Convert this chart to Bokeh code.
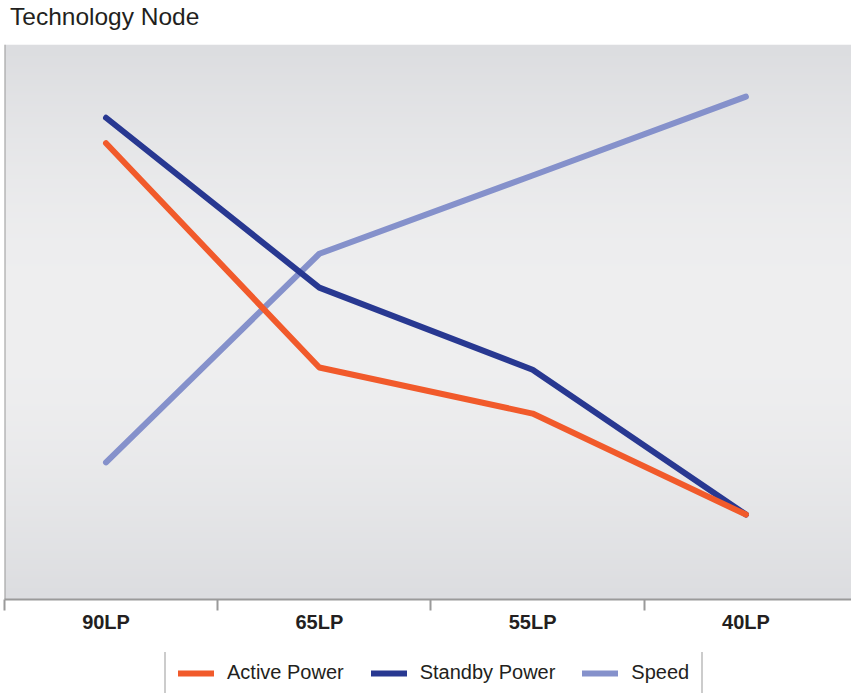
import numpy as np
from bokeh.plotting import figure
from bokeh.layouts import column
from bokeh.models import Range1d, FixedTicker, Legend, LegendItem, Span, Div
from bokeh.embed import file_html
from bokeh.resources import INLINE

# ---- data ----
title_text = "Technology Node"
categories = ["90LP", "65LP", "55LP", "40LP"]
positions = [0, 1, 2, 3]
active_power = [82.2, 41.8, 33.5, 15.3]
standby_power = [86.8, 56.2, 41.4, 15.3]
speed = [24.7, 62.3, 76.4, 90.6]
series_names = ["Active Power", "Standby Power", "Speed"]
series_colors = ["#f15a2b", "#283891", "#8591cb"]

FONT = "Liberation Sans"
TXT = "#231f20"

title_div = Div(text=title_text, width=851, height=44, margin=0,
                styles={"font-family": "'Liberation Sans', Arial, sans-serif",
                        "font-size": "24.5px", "color": TXT,
                        "padding-left": "10px", "padding-top": "2px",
                        "line-height": "1.2", "white-space": "nowrap"})

p = figure(frame_width=847, frame_height=555,
           x_range=Range1d(-0.476, 3.495), y_range=Range1d(0, 100),
           output_backend="svg", toolbar_location=None)
p.margin = 0
p.min_border_left = 4
p.min_border_right = 0
p.min_border_bottom = 53
p.min_border_top = 0
p.outline_line_color = None
p.background_fill_color = None
p.border_fill_color = "white"
p.xgrid.visible = False
p.ygrid.visible = False
p.yaxis.visible = False

# background gradient (style only)
rows = 256
t = np.linspace(0.0, 1.0, rows)
f = 1.0 - np.abs(2.0 * t - 1.0)
f = np.sin(f * np.pi / 2)
edge = np.array([220, 221, 224], dtype=float)
mid = np.array([239, 239, 240], dtype=float)
img = np.empty((rows, 1), dtype=np.uint32)
view = img.view(dtype=np.uint8).reshape((rows, 1, 4))
for k in range(3):
    view[:, 0, k] = (edge[k] + (mid[k] - edge[k]) * f).astype(np.uint8)
view[:, 0, 3] = 255
xr, yr = p.x_range, p.y_range
p.image_rgba(image=[img], x=xr.start, y=yr.start,
             dw=xr.end - xr.start, dh=yr.end - yr.start)

p.add_layout(Span(location=xr.start, dimension="height",
                  line_color="#9a9a9a", line_width=2))

line_kw = dict(line_width=6, line_cap="round", line_join="round")
p.line(positions, speed, line_color=series_colors[2], **line_kw)
p.line(positions, standby_power, line_color=series_colors[1], **line_kw)
p.line(positions, active_power, line_color=series_colors[0], **line_kw)

ax = p.xaxis[0]
ax.ticker = FixedTicker(ticks=positions, minor_ticks=[xr.start] + [i + 0.523 for i in positions[:3]])
ax.major_label_overrides = {i: c for i, c in zip(positions, categories)}
ax.major_tick_line_color = None
ax.minor_tick_line_color = "#9a9a9a"
ax.minor_tick_line_width = 2
ax.minor_tick_in = 0
ax.minor_tick_out = 11
ax.axis_line_color = "#9a9a9a"
ax.axis_line_width = 2
ax.major_label_text_font = FONT
ax.major_label_text_font_size = "20px"
ax.major_label_text_font_style = "bold"
ax.major_label_text_color = TXT
ax.major_label_standoff = 0

# legend strip below the chart (its series lie outside its ranges, only the key shows)
lg = figure(width=851, height=41, x_range=Range1d(10, 11), y_range=Range1d(200, 300),
            output_backend="svg", toolbar_location=None)
lg.margin = 0
lg.min_border = 0
lg.axis.visible = False
lg.grid.visible = False
lg.outline_line_color = None
lg.background_fill_color = "white"
lg.border_fill_color = "white"
l_active = lg.line(positions, active_power, line_color=series_colors[0], **line_kw)
l_standby = lg.line(positions, standby_power, line_color=series_colors[1], **line_kw)
l_speed = lg.line(positions, speed, line_color=series_colors[2], **line_kw)

legend = Legend(items=[
    LegendItem(label=series_names[0], renderers=[l_active]),
    LegendItem(label=series_names[1], renderers=[l_standby]),
    LegendItem(label=series_names[2], renderers=[l_speed]),
], orientation="horizontal", location=(160, -5))
legend.label_text_font = FONT
legend.label_text_font_size = "20px"
legend.label_text_color = TXT
legend.border_line_color = "#9a9a9a"
legend.border_line_width = 2
legend.background_fill_color = "white"
legend.background_fill_alpha = 1.0
legend.padding = 12
legend.spacing = 27
legend.label_standoff = 13
legend.glyph_width = 36
legend.glyph_height = 20
legend.margin = 0
lg.add_layout(legend, "center")

layout = column(title_div, p, lg, spacing=0)
layout.margin = 0
open("out.html", "w").write(file_html(layout, INLINE))
